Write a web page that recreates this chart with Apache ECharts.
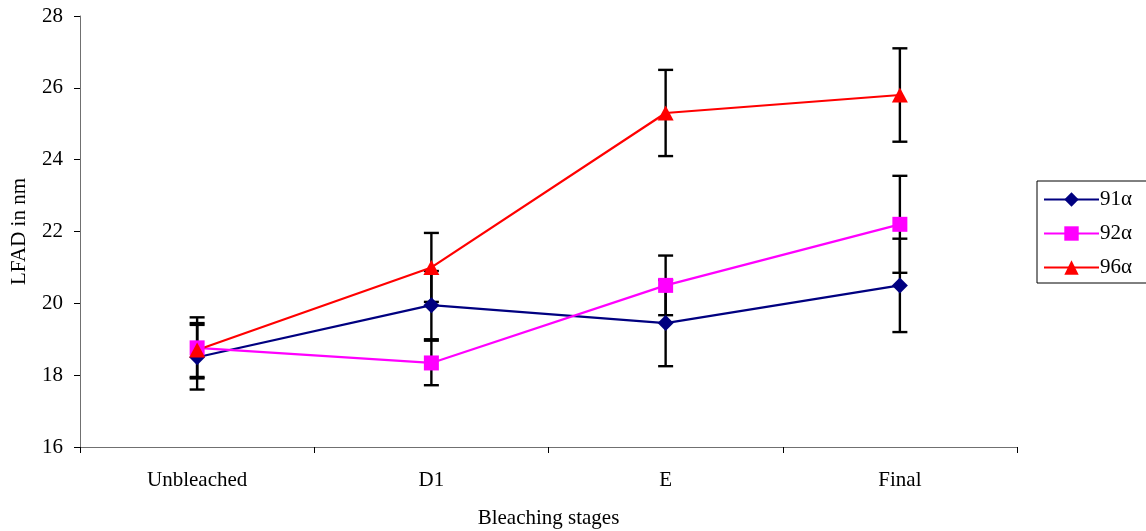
<!DOCTYPE html>
<html>
<head>
<meta charset="utf-8">
<script src="https://cdn.jsdelivr.net/npm/echarts@6/dist/echarts.min.js"></script>
<style>
  html, body { margin: 0; padding: 0; background: #fff; }
  #chart { width: 1146px; height: 531px; }
</style>
</head>
<body>
<div id="chart"></div>
<script>
// Bleaching stages on the category axis
const categories = ['Unbleached', 'D1', 'E', 'Final'];

// Mean LFAD (nm) per pulp
const lfad91 = [18.5, 19.95, 19.45, 20.5];
const lfad92 = [18.76, 18.34, 20.5, 22.2];
const lfad96 = [18.7, 21.0, 25.3, 25.8];

// Error bar half-widths (nm)
const err91 = [0.9, 0.95, 1.2, 1.3];
const err92 = [0.85, 0.62, 0.83, 1.35];
const err96 = [0.75, 0.96, 1.2, 1.3];

const seriesNames = ['91\u03b1', '92\u03b1', '96\u03b1'];
const yTicks = { min: 16, max: 28, step: 2 };

const FONT = "'Liberation Serif', 'Times New Roman', serif";
const FS = 21;

function errorData(means, errs) {
  return means.map((m, i) => [i, m - errs[i], m + errs[i]]);
}

function renderErrorBar(params, api) {
  const i = api.value(0);
  const lo = api.coord([i, api.value(1)]);
  const hi = api.coord([i, api.value(2)]);
  const half = 7.5;
  const style = { stroke: '#000', lineWidth: 2.4 };
  return {
    type: 'group',
    children: [
      { type: 'line', shape: { x1: lo[0], y1: lo[1], x2: hi[0], y2: hi[1] }, style },
      { type: 'line', shape: { x1: hi[0] - half, y1: hi[1], x2: hi[0] + half, y2: hi[1] }, style },
      { type: 'line', shape: { x1: lo[0] - half, y1: lo[1], x2: lo[0] + half, y2: lo[1] }, style }
    ]
  };
}

function errorSeries(means, errs) {
  return {
    type: 'custom',
    renderItem: renderErrorBar,
    data: errorData(means, errs),
    encode: { x: 0, y: [1, 2] },
    z: 1,
    silent: true
  };
}

function lineSeries(name, data, color, symbol, size) {
  return {
    name, type: 'line', data,
    symbol, symbolSize: size,
    showSymbol: true,
    lineStyle: { color, width: 2.2 },
    itemStyle: { color },
    z: 3,
    animation: false
  };
}

const chart = echarts.init(document.getElementById('chart'));
chart.setOption({
  animation: false,
  backgroundColor: '#fff',
  textStyle: { fontFamily: FONT, color: '#000' },
  grid: { left: 80, right: 129, top: 16, bottom: 84, containLabel: false, outerBoundsMode: 'none' },
  legend: {
    orient: 'vertical',
    left: 1037, top: 181,
    data: seriesNames,
    itemWidth: 55, itemHeight: 18, itemGap: 13,
    padding: [8, 60, 5, 6],
    borderColor: '#000', borderWidth: 1,
    textStyle: { fontFamily: FONT, fontSize: FS, color: '#000', padding: [0, 0, 0, -4] }
  },
  xAxis: {
    type: 'category',
    data: categories,
    boundaryGap: true,
    name: 'Bleaching stages',
    nameLocation: 'middle',
    nameGap: 61,
    nameTextStyle: { fontFamily: FONT, fontSize: FS, color: '#000', verticalAlign: 'top' },
    axisLine: { lineStyle: { color: '#707070', width: 1 } },
    axisTick: { show: true, alignWithLabel: false, length: 6, lineStyle: { color: '#000' } },
    axisLabel: { fontFamily: FONT, fontSize: FS, color: '#000', margin: 23 },
    splitLine: { show: false }
  },
  yAxis: {
    type: 'value',
    min: yTicks.min, max: yTicks.max, interval: yTicks.step,
    name: 'LFAD in nm',
    nameLocation: 'middle',
    nameGap: 50,
    nameTextStyle: { fontFamily: FONT, fontSize: FS, color: '#000' },
    axisLine: { show: true, lineStyle: { color: '#707070', width: 1 } },
    axisTick: { show: true, length: 6, lineStyle: { color: '#000' } },
    axisLabel: { fontFamily: FONT, fontSize: FS, color: '#000', margin: 17 },
    splitLine: { show: false }
  },
  series: [
    errorSeries(lfad91, err91),
    errorSeries(lfad92, err92),
    errorSeries(lfad96, err96),
    lineSeries(seriesNames[0], lfad91, '#000080', 'diamond', [16, 16]),
    lineSeries(seriesNames[1], lfad92, '#FF00FF', 'rect', [15, 15]),
    lineSeries(seriesNames[2], lfad96, '#FF0000', 'triangle', [16, 15])
  ]
});
</script>
</body>
</html>
